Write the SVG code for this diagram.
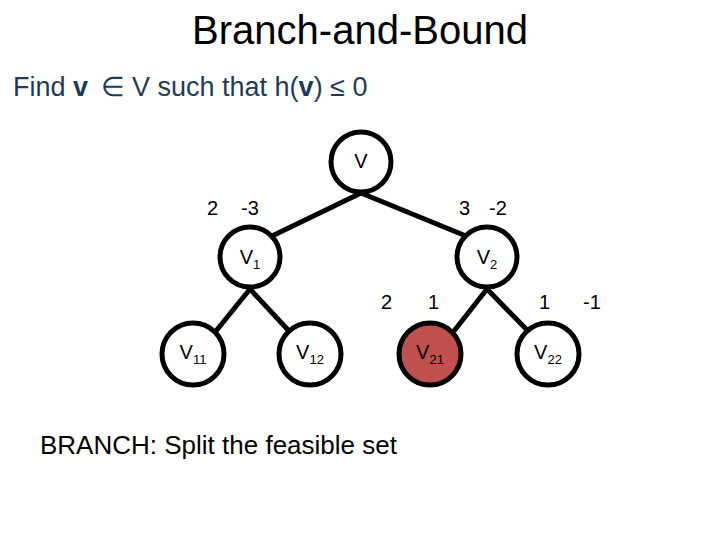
<svg xmlns="http://www.w3.org/2000/svg" width="720" height="540" viewBox="0 0 720 540">
<style>
text{font-family:"Liberation Sans",Arial,sans-serif;fill:#000}
.node circle{fill:#fff;stroke:#000;stroke-width:5}
.node text{font-size:20px;text-anchor:middle}
.sub{font-size:13px}
.edges line{stroke:#000;stroke-width:5}
.lbl{font-size:20px}
</style>
<rect width="720" height="540" fill="#fff"/>
<text x="360" y="44" font-size="40" text-anchor="middle">Branch-and-Bound</text>
<text y="96" font-size="27" style="fill:#1f3b5a"><tspan x="13">Find</tspan><tspan x="73" font-weight="bold">v</tspan><tspan x="101">∈</tspan><tspan x="132">V such that h(</tspan><tspan font-weight="bold">v</tspan>) ≤ 0</text>
<g class="edges">
<line x1="361" y1="193" x2="272" y2="236"/>
<line x1="361" y1="193" x2="466" y2="236"/>
<line x1="250" y1="289" x2="216" y2="331"/>
<line x1="250" y1="289" x2="289" y2="331"/>
<line x1="487" y1="289" x2="454" y2="331"/>
<line x1="487" y1="289" x2="528" y2="331"/>
</g>
<g id="v" class="node"><circle cx="361" cy="162" r="30"/><text x="361" y="168">V</text></g>
<g id="v1" class="node"><circle cx="250" cy="257" r="30"/><text x="250" y="264">V<tspan class="sub" dy="5">1</tspan></text></g>
<g id="v2" class="node"><circle cx="487" cy="257" r="30"/><text x="487" y="264">V<tspan class="sub" dy="5">2</tspan></text></g>
<g id="v11" class="node"><circle cx="193" cy="354" r="31"/><text x="193" y="359">V<tspan class="sub" dy="5">11</tspan></text></g>
<g id="v12" class="node"><circle cx="310" cy="354" r="31"/><text x="310" y="359">V<tspan class="sub" dy="5">12</tspan></text></g>
<g id="v21" class="node"><circle cx="430" cy="354" r="31" style="fill:#c0504d"/><text x="430" y="359">V<tspan class="sub" dy="5">21</tspan></text></g>
<g id="v22" class="node"><circle cx="548" cy="354" r="31"/><text x="548" y="359">V<tspan class="sub" dy="5">22</tspan></text></g>
<text class="lbl" x="207" y="215">2</text>
<text class="lbl" x="241" y="215">-3</text>
<text class="lbl" x="459" y="215">3</text>
<text class="lbl" x="489" y="215">-2</text>
<text class="lbl" x="381" y="309">2</text>
<text class="lbl" x="428" y="309">1</text>
<text class="lbl" x="539" y="309">1</text>
<text class="lbl" x="583" y="309">-1</text>
<text x="40" y="454" font-size="26">BRANCH: Split the feasible set</text>
</svg>
